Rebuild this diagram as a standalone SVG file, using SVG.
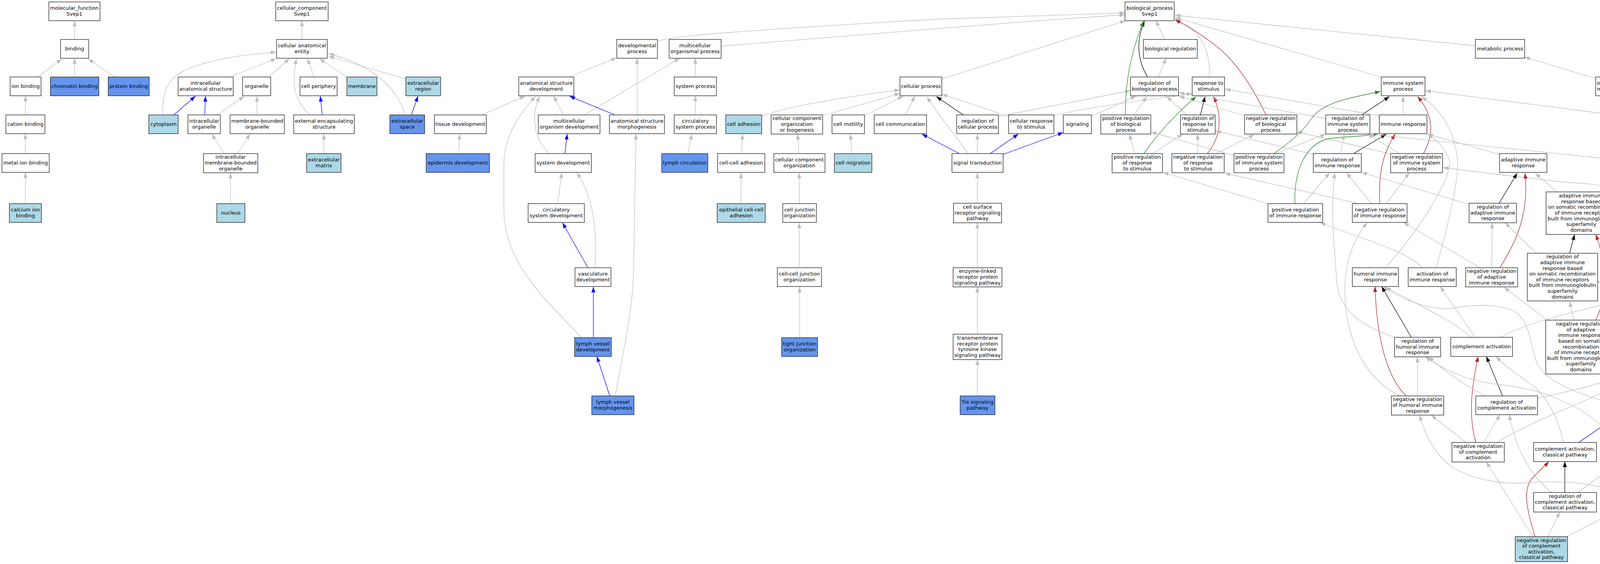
<svg xmlns="http://www.w3.org/2000/svg" width="4803" height="1443" viewBox="0 0 4803 1443">
<style>
.nd rect{fill:#fff;stroke:#1a1a1a;stroke-width:1.3}
.nd.lb rect{fill:#ADD8E6}
.nd.cb rect{fill:#6495ED}
.nd text{font-family:"DejaVu Sans","Liberation Sans",sans-serif;font-size:13px;fill:#000;text-anchor:middle}
#edges path{fill:none;stroke-width:1.3}
#edges .g{stroke:#BEBEBE;marker-end:url(#ag)}
#edges .b{stroke:#0000FF;marker-end:url(#ab)}
#edges .k{stroke:#000000;marker-end:url(#ak)}
#edges .v{stroke:#228B22;marker-end:url(#av)}
#edges .r{stroke:#B22222;marker-end:url(#ar)}
</style>
<defs>
<marker id="ag" viewBox="0 0 14 10" refX="14" refY="5" markerWidth="14" markerHeight="10" markerUnits="userSpaceOnUse" orient="auto"><path d="M0,0L14,5L0,10z" fill="#BEBEBE"/></marker>
<marker id="ab" viewBox="0 0 14 10" refX="14" refY="5" markerWidth="14" markerHeight="10" markerUnits="userSpaceOnUse" orient="auto"><path d="M0,0L14,5L0,10z" fill="#0000FF"/></marker>
<marker id="ak" viewBox="0 0 14 10" refX="14" refY="5" markerWidth="14" markerHeight="10" markerUnits="userSpaceOnUse" orient="auto"><path d="M0,0L14,5L0,10z" fill="#000000"/></marker>
<marker id="av" viewBox="0 0 14 10" refX="14" refY="5" markerWidth="14" markerHeight="10" markerUnits="userSpaceOnUse" orient="auto"><path d="M0,0L14,5L0,10z" fill="#228B22"/></marker>
<marker id="ar" viewBox="0 0 14 10" refX="14" refY="5" markerWidth="14" markerHeight="10" markerUnits="userSpaceOnUse" orient="auto"><path d="M0,0L14,5L0,10z" fill="#B22222"/></marker>
</defs>
<rect x="0" y="0" width="4803" height="1443" fill="#fff"/>
<g id="edges">
<path class="g" d="M191,101L191,53"/>
<path class="g" d="M97,197L158,151"/>
<path class="g" d="M191,197L191,149"/>
<path class="g" d="M294,197L226,151"/>
<path class="g" d="M65,294L65,245"/>
<path class="g" d="M65,393L65,342"/>
<path class="g" d="M65,521L65,441"/>
<path class="g" d="M773,101L773,53"/>
<path class="g" d="M417,294C414,215 440,185 520,163S650,139 707,133"/>
<path class="b" d="M445,294L500,246"/>
<path class="b" d="M524,294L526,246"/>
<path class="g" d="M589,197L707,150"/>
<path class="g" d="M688,197L741,150"/>
<path class="g" d="M556,294L625,246"/>
<path class="g" d="M658,294L658,246"/>
<path class="g" d="M794,294C755,262 745,215 759,150"/>
<path class="g" d="M804,197L787,150"/>
<path class="b" d="M825,294L820,246"/>
<path class="g" d="M888,197L818,150"/>
<path class="g" d="M1039,202L841,144"/>
<path class="g" d="M1036,294C1025,250 985,175 841,137"/>
<path class="b" d="M1053,294L1070,246"/>
<path class="g" d="M574,393L542,343"/>
<path class="g" d="M608,393L640,343"/>
<path class="g" d="M590,521L590,442"/>
<path class="g" d="M829,393L829,343"/>
<path class="g" d="M1456,197L1578,148"/>
<path class="g" d="M1233,294L1344,246"/>
<path class="g" d="M1174,393L1177,343"/>
<path class="g" d="M1443,294L1417,246"/>
<path class="g" d="M1496,294L1740,149"/>
<path class="b" d="M1574,294L1458,246"/>
<path class="g" d="M1631,294L1631,149"/>
<path class="b" d="M1446,393L1452,343"/>
<path class="g" d="M1407,393C1370,360 1355,300 1382,247"/>
<path class="g" d="M1428,521L1438,442"/>
<path class="b" d="M1505,685L1440,570"/>
<path class="g" d="M1523,685C1530,600 1520,500 1476,442"/>
<path class="b" d="M1519,864L1519,734"/>
<path class="g" d="M1488,864C1440,805 1290,690 1290,540L1290,420C1290,350 1330,290 1371,247"/>
<path class="g" d="M1575,1013C1600,880 1620,780 1622,700L1628,343"/>
<path class="b" d="M1561,1013L1528,912"/>
<path class="g" d="M1780,197L1780,149"/>
<path class="g" d="M1780,294L1780,245"/>
<path class="g" d="M1761,393L1771,343"/>
<path class="g" d="M1683,105C1720,92 1900,78 2400,49L2880,33"/>
<path class="g" d="M1846,118C2200,90 2600,55 2880,38"/>
<path class="g" d="M2411,202L2881,53"/>
<path class="g" d="M1950,298C2000,275 2150,250 2304,230"/>
<path class="g" d="M2106,296L2304,239"/>
<path class="g" d="M2213,296L2312,246"/>
<path class="g" d="M2318,294L2342,246"/>
<path class="g" d="M1898,393L1901,343"/>
<path class="g" d="M2045,393L2042,343"/>
<path class="g" d="M2181,393L2177,343"/>
<path class="g" d="M1897,521L1897,442"/>
<path class="g" d="M2046,521L2046,442"/>
<path class="g" d="M2046,685L2046,570"/>
<path class="g" d="M2047,864L2047,734"/>
<path class="k" d="M2466,294L2397,247"/>
<path class="g" d="M2556,298L2894,232"/>
<path class="g" d="M2582,298L2411,241"/>
<path class="g" d="M2698,296C2800,270 2950,255 3052,239"/>
<path class="g" d="M2794,298L2908,246"/>
<path class="g" d="M2502,393L2502,343"/>
<path class="b" d="M2535,393L2607,343"/>
<path class="b" d="M2568,395L2722,339"/>
<path class="b" d="M2456,393L2360,343"/>
<path class="g" d="M2479,393C2440,340 2400,290 2373,248"/>
<path class="g" d="M2502,520L2502,442"/>
<path class="g" d="M2502,685L2502,570"/>
<path class="g" d="M2502,855L2502,734"/>
<path class="g" d="M2502,1013L2502,920"/>
<path class="g" d="M2982,101L2959,53"/>
<path class="g" d="M2966,197L2985,149"/>
<path class="k" d="M2938,197C2915,160 2905,110 2930,54"/>
<path class="v" d="M2881,294C2880,200 2900,120 2928,54"/>
<path class="g" d="M3096,197C3098,130 3080,80 3008,48"/>
<path class="r" d="M3241,294C3215,240 3170,160 3110,115C3070,85 3040,65 3008,51"/>
<path class="g" d="M3777,117L3008,39"/>
<path class="g" d="M3536,197L3008,45"/>
<path class="g" d="M2903,294L2936,247"/>
<path class="g" d="M3038,294L2987,247"/>
<path class="k" d="M3073,294L3085,247"/>
<path class="g" d="M2905,393L2891,343"/>
<path class="v" d="M2928,393C2980,320 3030,275 3062,247"/>
<path class="g" d="M2951,393L3028,343"/>
<path class="g" d="M3066,393L3066,343"/>
<path class="r" d="M3091,393C3125,350 3130,300 3107,247"/>
<path class="g" d="M3113,393L3211,344"/>
<path class="g" d="M3159,398L2947,338"/>
<path class="g" d="M3531,296L3136,228"/>
<path class="g" d="M3394,303L3018,237"/>
<path class="g" d="M3188,296L3018,246"/>
<path class="g" d="M3362,395L3112,335"/>
<path class="g" d="M3478,521L3135,443"/>
<path class="g" d="M3246,521L2977,441"/>
<path class="g" d="M3557,393L3320,337"/>
<path class="v" d="M3261,393C3310,360 3340,330 3360,300C3390,260 3460,250 3534,234"/>
<path class="k" d="M3486,294L3557,247"/>
<path class="g" d="M3592,294L3592,246"/>
<path class="r" d="M3644,393C3668,350 3675,300 3629,247"/>
<path class="g" d="M3677,685C3700,600 3740,450 3730,400C3720,330 3690,280 3639,248"/>
<path class="g" d="M4249,309L3649,232"/>
<path class="v" d="M3315,521C3312,440 3340,370 3400,355C3450,348 3490,350 3529,342"/>
<path class="k" d="M3465,393L3549,343"/>
<path class="r" d="M3532,521C3530,450 3535,400 3572,343"/>
<path class="g" d="M3432,393L3441,343"/>
<path class="g" d="M3266,393L3394,343"/>
<path class="g" d="M3583,393L3501,343"/>
<path class="g" d="M3547,685C3640,580 3720,450 3710,410C3700,380 3680,360 3655,343"/>
<path class="g" d="M3838,395L3654,343"/>
<path class="g" d="M4154,410L3503,343"/>
<path class="g" d="M3337,521L3404,442"/>
<path class="g" d="M3511,521L3447,442"/>
<path class="g" d="M3549,521L3608,442"/>
<path class="g" d="M3570,863C3470,830 3425,780 3422,720C3418,640 3404,560 3417,442"/>
<path class="g" d="M3583,1013C3520,980 3470,920 3450,820C3435,740 3440,640 3500,570"/>
<path class="g" d="M3789,685L3593,569"/>
<path class="g" d="M3641,685C3600,640 3480,610 3379,569"/>
<path class="g" d="M4230,521C4150,480 4100,470 4000,466L3694,429"/>
<path class="k" d="M3837,521L3884,443"/>
<path class="r" d="M3840,685C3880,620 3915,550 3904,443"/>
<path class="g" d="M3986,491L3930,443"/>
<path class="g" d="M3819,685L3820,570"/>
<path class="g" d="M3933,648L3853,570"/>
<path class="g" d="M3761,523L3486,441"/>
<path class="g" d="M3957,816L3851,735"/>
<path class="k" d="M4018,648L4031,600"/>
<path class="r" d="M4085,819C4115,760 4115,680 4085,600"/>
<path class="g" d="M4029,819L4018,771"/>
<path class="g" d="M4335,685L4138,590"/>
<path class="g" d="M4451,861C4420,820 4300,762 4090,721"/>
<path class="g" d="M4469,1017L4137,920"/>
<path class="g" d="M4085,201L3903,146"/>
<path class="g" d="M4496,303L4210,238"/>
<path class="g" d="M4620,393L4581,342"/>
<path class="k" d="M4236,393L4284,343"/>
<path class="r" d="M4283,520L4302,343"/>
<path class="g" d="M4266,520L4228,443"/>
<path class="g" d="M4438,520L4269,443"/>
<path class="g" d="M3842,863C3900,830 4000,805 4100,780C4250,730 4370,650 4376,480C4380,420 4350,370 4325,344"/>
<path class="g" d="M4446,393L4353,343"/>
<path class="k" d="M4489,520L4489,442"/>
<path class="r" d="M4543,685C4580,600 4580,505 4530,442"/>
<path class="g" d="M4666,521L4535,442"/>
<path class="g" d="M4499,685L4325,570"/>
<path class="g" d="M4522,685L4496,570"/>
<path class="k" d="M4699,685L4706,570"/>
<path class="r" d="M4717,863C4760,820 4795,770 4797,700C4798,640 4770,600 4735,570"/>
<path class="g" d="M4666,685L4522,570"/>
<path class="g" d="M4407,685C4430,660 4460,643 4500,625L4645,569"/>
<path class="g" d="M4338,863L4376,734"/>
<path class="k" d="M4459,863L4402,734"/>
<path class="r" d="M4543,1013C4565,920 4560,820 4510,790C4470,775 4440,760 4410,734"/>
<path class="g" d="M4504,863L4663,734"/>
<path class="g" d="M4691,863L4695,734"/>
<path class="g" d="M4666,863L4556,734"/>
<path class="g" d="M4525,1013L4484,914"/>
<path class="g" d="M4561,1013L4663,914"/>
<path class="g" d="M4210,1006L4306,914"/>
<path class="k" d="M4330,1006L4330,914"/>
<path class="r" d="M4412,1125C4415,1040 4400,980 4353,914"/>
<path class="g" d="M4361,1006L4448,914"/>
<path class="g" d="M4387,1125L4353,1070"/>
<path class="g" d="M4441,1125L4510,1062"/>
<path class="b" d="M4040,1133L4132,1070"/>
<path class="k" d="M4178,1118L4178,1070"/>
<path class="r" d="M4223,1246C4265,1190 4270,1130 4224,1070"/>
<path class="g" d="M4227,1118L4289,1070"/>
<path class="g" d="M4246,1246L4351,1189"/>
<path class="g" d="M4178,1246L4178,1197"/>
<path class="g" d="M4038,1261L4125,1197"/>
<path class="g" d="M4010,1373L4112,1321"/>
<path class="g" d="M4112,1028C4050,1010 3960,980 3935,930C3915,880 3920,820 3873,795C3830,775 3760,780 3710,790C3640,790 3580,760 3542,733"/>
<path class="g" d="M3766,863C3720,820 3630,780 3547,735"/>
<path class="g" d="M3776,863L3687,733"/>
<path class="k" d="M3613,863L3537,733"/>
<path class="r" d="M3600,1013C3555,970 3525,880 3520,733"/>
<path class="g" d="M3629,1013L3629,913"/>
<path class="k" d="M3847,1014L3805,912"/>
<path class="r" d="M3778,1132C3760,1070 3765,1000 3784,912"/>
<path class="g" d="M3798,1132L3840,1061"/>
<path class="g" d="M3753,1132L3664,1062"/>
<path class="g" d="M3832,1132C3900,1090 4000,1050 4068,1020C4140,990 4190,960 4220,890C4245,820 4256,750 4256,570"/>
<path class="g" d="M3936,1019C4020,1000 4120,980 4150,955C4190,920 4195,850 4195,700L4206,442"/>
<path class="g" d="M3802,1013C3740,980 3700,950 3657,913"/>
<path class="g" d="M4132,1117C4080,1070 4040,1040 4000,1027C3950,1000 3880,988 3838,984C3760,975 3700,950 3649,913"/>
<path class="k" d="M4006,1260L4006,1181"/>
<path class="g" d="M3973,1260C3920,1220 3880,1150 3864,1061"/>
<path class="g" d="M3924,1373L3805,1182"/>
<path class="r" d="M3930,1373C3910,1310 3895,1250 3925,1221C3940,1205 3955,1192 3965,1181"/>
<path class="g" d="M3963,1373L3993,1310"/>
<path class="g" d="M4002,1132C3990,1070 3955,1005 3915,980C3880,955 3850,935 3830,912"/>
<path class="g" d="M4112,1250C4050,1232 3970,1230 3914,1235C3850,1240 3780,1230 3720,1197C3680,1170 3650,1120 3634,1062"/>
</g>
<g id="mf" class="nd"><rect x="125" y="5" width="131" height="48"/><text><tspan x="190.5" y="25">molecular_function</tspan><tspan x="190.5" y="40">Svep1</tspan></text></g>
<g id="binding" class="nd"><rect x="155" y="101" width="72" height="48"/><text><tspan x="191" y="128.5">binding</tspan></text></g>
<g id="ion_binding" class="nd"><rect x="26" y="197" width="79" height="48"/><text><tspan x="65.5" y="224.5">ion binding</tspan></text></g>
<g id="chromatin_binding" class="nd cb"><rect x="129" y="197" width="124" height="48"/><text><tspan x="191" y="224.5">chromatin binding</tspan></text></g>
<g id="protein_binding" class="nd cb"><rect x="277" y="197" width="105" height="48"/><text><tspan x="329.5" y="224.5">protein binding</tspan></text></g>
<g id="cation_binding" class="nd"><rect x="15" y="294" width="100" height="48"/><text><tspan x="65" y="321.5">cation binding</tspan></text></g>
<g id="metal_ion_binding" class="nd"><rect x="5" y="393" width="121" height="48"/><text><tspan x="65.5" y="420.5">metal ion binding</tspan></text></g>
<g id="calcium_ion_binding" class="nd lb"><rect x="24" y="521" width="82" height="48"/><text><tspan x="65" y="541">calcium ion</tspan><tspan x="65" y="556">binding</tspan></text></g>
<g id="cc" class="nd"><rect x="706" y="5" width="134" height="48"/><text><tspan x="773" y="25">cellular_component</tspan><tspan x="773" y="40">Svep1</tspan></text></g>
<g id="cae" class="nd"><rect x="708" y="101" width="130" height="48"/><text><tspan x="773" y="121">cellular anatomical</tspan><tspan x="773" y="136">entity</tspan></text></g>
<g id="ias" class="nd"><rect x="456" y="197" width="141" height="48"/><text><tspan x="526.5" y="217">intracellular</tspan><tspan x="526.5" y="232">anatomical structure</tspan></text></g>
<g id="organelle" class="nd"><rect x="621" y="197" width="72" height="48"/><text><tspan x="657" y="224.5">organelle</tspan></text></g>
<g id="cell_periphery" class="nd"><rect x="768" y="197" width="95" height="48"/><text><tspan x="815.5" y="224.5">cell periphery</tspan></text></g>
<g id="membrane" class="nd lb"><rect x="888" y="197" width="77" height="48"/><text><tspan x="926.5" y="224.5">membrane</tspan></text></g>
<g id="extracellular_region" class="nd lb"><rect x="1039" y="197" width="89" height="48"/><text><tspan x="1083.5" y="217">extracellular</tspan><tspan x="1083.5" y="232">region</tspan></text></g>
<g id="cytoplasm" class="nd lb"><rect x="381" y="294" width="75" height="48"/><text><tspan x="418.5" y="321.5">cytoplasm</tspan></text></g>
<g id="intracellular_organelle" class="nd"><rect x="481" y="294" width="83" height="48"/><text><tspan x="522.5" y="314">intracellular</tspan><tspan x="522.5" y="329">organelle</tspan></text></g>
<g id="mbo" class="nd"><rect x="589" y="294" width="139" height="48"/><text><tspan x="658.5" y="314">membrane-bounded</tspan><tspan x="658.5" y="329">organelle</tspan></text></g>
<g id="ees" class="nd"><rect x="752" y="294" width="155" height="48"/><text><tspan x="829.5" y="314">external encapsulating</tspan><tspan x="829.5" y="329">structure</tspan></text></g>
<g id="extracellular_space" class="nd cb"><rect x="998" y="294" width="89" height="48"/><text><tspan x="1042.5" y="314">extracellular</tspan><tspan x="1042.5" y="329">space</tspan></text></g>
<g id="imbo" class="nd"><rect x="521" y="393" width="139" height="49"/><text><tspan x="590.5" y="406.4">intracellular</tspan><tspan x="590.5" y="421">membrane-bounded</tspan><tspan x="590.5" y="435.6">organelle</tspan></text></g>
<g id="nucleus" class="nd lb"><rect x="555" y="521" width="72" height="48"/><text><tspan x="591" y="548.5">nucleus</tspan></text></g>
<g id="extracellular_matrix" class="nd lb"><rect x="785" y="393" width="88" height="48"/><text><tspan x="829" y="413">extracellular</tspan><tspan x="829" y="428">matrix</tspan></text></g>
<g id="tissue_development" class="nd"><rect x="1112" y="294" width="133" height="48"/><text><tspan x="1178.5" y="321.5">tissue development</tspan></text></g>
<g id="epidermis_development" class="nd cb"><rect x="1091" y="393" width="162" height="48"/><text><tspan x="1172" y="420.5">epidermis development</tspan></text></g>
<g id="asd" class="nd"><rect x="1328" y="197" width="141" height="48"/><text><tspan x="1398.5" y="217">anatomical structure</tspan><tspan x="1398.5" y="232">development</tspan></text></g>
<g id="mod" class="nd"><rect x="1378" y="294" width="158" height="48"/><text><tspan x="1457" y="314">multicellular</tspan><tspan x="1457" y="329">organism development</tspan></text></g>
<g id="asm" class="nd"><rect x="1560" y="294" width="141" height="48"/><text><tspan x="1630.5" y="314">anatomical structure</tspan><tspan x="1630.5" y="329">morphogenesis</tspan></text></g>
<g id="system_development" class="nd"><rect x="1370" y="393" width="144" height="48"/><text><tspan x="1442" y="420.5">system development</tspan></text></g>
<g id="circ_dev" class="nd"><rect x="1352" y="521" width="144" height="48"/><text><tspan x="1424" y="541">circulatory</tspan><tspan x="1424" y="556">system development</tspan></text></g>
<g id="vasculature_development" class="nd"><rect x="1472" y="685" width="92" height="48"/><text><tspan x="1518" y="705">vasculature</tspan><tspan x="1518" y="720">development</tspan></text></g>
<g id="lymph_vessel_development" class="nd cb"><rect x="1471" y="864" width="94" height="48"/><text><tspan x="1518" y="884">lymph vessel</tspan><tspan x="1518" y="899">development</tspan></text></g>
<g id="lymph_vessel_morphogenesis" class="nd cb"><rect x="1515" y="1013" width="108" height="48"/><text><tspan x="1569" y="1033">lymph vessel</tspan><tspan x="1569" y="1048">morphogenesis</tspan></text></g>
<g id="developmental_process" class="nd"><rect x="1579" y="101" width="104" height="48"/><text><tspan x="1631" y="121">developmental</tspan><tspan x="1631" y="136">process</tspan></text></g>
<g id="mop" class="nd"><rect x="1713" y="101" width="133" height="48"/><text><tspan x="1779.5" y="121">multicellular</tspan><tspan x="1779.5" y="136">organismal process</tspan></text></g>
<g id="system_process" class="nd"><rect x="1726" y="197" width="108" height="48"/><text><tspan x="1780" y="224.5">system process</tspan></text></g>
<g id="circ_proc" class="nd"><rect x="1726" y="294" width="108" height="48"/><text><tspan x="1780" y="314">circulatory</tspan><tspan x="1780" y="329">system process</tspan></text></g>
<g id="lymph_circulation" class="nd cb"><rect x="1694" y="393" width="118" height="48"/><text><tspan x="1753" y="420.5">lymph circulation</tspan></text></g>
<g id="cell_adhesion" class="nd lb"><rect x="1858" y="294" width="92" height="48"/><text><tspan x="1904" y="321.5">cell adhesion</tspan></text></g>
<g id="ccob" class="nd"><rect x="1974" y="294" width="132" height="49"/><text><tspan x="2040" y="307.4">cellular component</tspan><tspan x="2040" y="322">organization</tspan><tspan x="2040" y="336.6">or biogenesis</tspan></text></g>
<g id="cell_motility" class="nd"><rect x="2130" y="294" width="83" height="48"/><text><tspan x="2171.5" y="321.5">cell motility</tspan></text></g>
<g id="cell_communication" class="nd"><rect x="2238" y="294" width="134" height="48"/><text><tspan x="2305" y="321.5">cell communication</tspan></text></g>
<g id="cellular_process" class="nd"><rect x="2304" y="197" width="107" height="48"/><text><tspan x="2357.5" y="224.5">cellular process</tspan></text></g>
<g id="cell_cell_adhesion" class="nd"><rect x="1837" y="393" width="121" height="48"/><text><tspan x="1897.5" y="420.5">cell-cell adhesion</tspan></text></g>
<g id="cco" class="nd"><rect x="1981" y="393" width="131" height="48"/><text><tspan x="2046.5" y="413">cellular component</tspan><tspan x="2046.5" y="428">organization</tspan></text></g>
<g id="cell_migration" class="nd lb"><rect x="2136" y="393" width="96" height="48"/><text><tspan x="2184" y="420.5">cell migration</tspan></text></g>
<g id="epithelial_adhesion" class="nd lb"><rect x="1836" y="521" width="123" height="48"/><text><tspan x="1897.5" y="541">epithelial cell-cell</tspan><tspan x="1897.5" y="556">adhesion</tspan></text></g>
<g id="cjo" class="nd"><rect x="2004" y="521" width="86" height="48"/><text><tspan x="2047" y="541">cell junction</tspan><tspan x="2047" y="556">organization</tspan></text></g>
<g id="ccjo" class="nd"><rect x="1990" y="685" width="113" height="48"/><text><tspan x="2046.5" y="705">cell-cell junction</tspan><tspan x="2046.5" y="720">organization</tspan></text></g>
<g id="tjo" class="nd cb"><rect x="2001" y="864" width="92" height="48"/><text><tspan x="2047" y="884">tight junction</tspan><tspan x="2047" y="899">organization</tspan></text></g>
<g id="bp" class="nd"><rect x="2880" y="5" width="126" height="48"/><text><tspan x="2943" y="25">biological_process</tspan><tspan x="2943" y="40">Svep1</tspan></text></g>
<g id="biological_regulation" class="nd"><rect x="2927" y="101" width="138" height="48"/><text><tspan x="2996" y="128.5">biological regulation</tspan></text></g>
<g id="rbp" class="nd"><rect x="2894" y="197" width="123" height="48"/><text><tspan x="2955.5" y="217">regulation of</tspan><tspan x="2955.5" y="232">biological process</tspan></text></g>
<g id="rts" class="nd"><rect x="3052" y="197" width="83" height="48"/><text><tspan x="3093.5" y="217">response to</tspan><tspan x="3093.5" y="232">stimulus</tspan></text></g>
<g id="rcp" class="nd"><rect x="2449" y="294" width="107" height="48"/><text><tspan x="2502.5" y="314">regulation of</tspan><tspan x="2502.5" y="329">cellular process</tspan></text></g>
<g id="crs" class="nd"><rect x="2582" y="294" width="116" height="48"/><text><tspan x="2640" y="314">cellular response</tspan><tspan x="2640" y="329">to stimulus</tspan></text></g>
<g id="signaling" class="nd"><rect x="2722" y="294" width="72" height="48"/><text><tspan x="2758" y="321.5">signaling</tspan></text></g>
<g id="prbp" class="nd"><rect x="2818" y="294" width="128" height="49"/><text><tspan x="2882" y="307.4">positive regulation</tspan><tspan x="2882" y="322">of biological</tspan><tspan x="2882" y="336.6">process</tspan></text></g>
<g id="rrs" class="nd"><rect x="3022" y="294" width="89" height="49"/><text><tspan x="3066.5" y="307.4">regulation of</tspan><tspan x="3066.5" y="322">response to</tspan><tspan x="3066.5" y="336.6">stimulus</tspan></text></g>
<g id="nrbp" class="nd"><rect x="3186" y="294" width="134" height="49"/><text><tspan x="3253" y="307.4">negative regulation</tspan><tspan x="3253" y="322">of biological</tspan><tspan x="3253" y="336.6">process</tspan></text></g>
<g id="signal_transduction" class="nd"><rect x="2437" y="393" width="131" height="48"/><text><tspan x="2502.5" y="420.5">signal transduction</tspan></text></g>
<g id="prrs" class="nd"><rect x="2847" y="393" width="129" height="49"/><text><tspan x="2911.5" y="406.4">positive regulation</tspan><tspan x="2911.5" y="421">of response</tspan><tspan x="2911.5" y="435.6">to stimulus</tspan></text></g>
<g id="nrrs" class="nd"><rect x="3000" y="393" width="134" height="49"/><text><tspan x="3067" y="406.4">negative regulation</tspan><tspan x="3067" y="421">of response</tspan><tspan x="3067" y="435.6">to stimulus</tspan></text></g>
<g id="pris" class="nd"><rect x="3159" y="393" width="128" height="49"/><text><tspan x="3223" y="406.4">positive regulation</tspan><tspan x="3223" y="421">of immune system</tspan><tspan x="3223" y="435.6">process</tspan></text></g>
<g id="csrsp" class="nd"><rect x="2441" y="520" width="123" height="50"/><text><tspan x="2502.5" y="533.9">cell surface</tspan><tspan x="2502.5" y="548.5">receptor signaling</tspan><tspan x="2502.5" y="563.1">pathway</tspan></text></g>
<g id="elrp" class="nd"><rect x="2440" y="685" width="125" height="49"/><text><tspan x="2502.5" y="698.4">enzyme-linked</tspan><tspan x="2502.5" y="713">receptor protein</tspan><tspan x="2502.5" y="727.6">signaling pathway</tspan></text></g>
<g id="trptk" class="nd"><rect x="2440" y="855" width="125" height="65"/><text><tspan x="2502.5" y="869.1">transmembrane</tspan><tspan x="2502.5" y="883.7">receptor protein</tspan><tspan x="2502.5" y="898.3">tyrosine kinase</tspan><tspan x="2502.5" y="912.9">signaling pathway</tspan></text></g>
<g id="tie" class="nd cb"><rect x="2458" y="1013" width="89" height="48"/><text><tspan x="2502.5" y="1033">Tie signaling</tspan><tspan x="2502.5" y="1048">pathway</tspan></text></g>
<g id="metabolic_process" class="nd"><rect x="3777" y="101" width="126" height="48"/><text><tspan x="3840" y="128.5">metabolic process</tspan></text></g>
<g id="isp" class="nd"><rect x="3536" y="197" width="112" height="48"/><text><tspan x="3592" y="217">immune system</tspan><tspan x="3592" y="232">process</tspan></text></g>
<g id="ris" class="nd"><rect x="3394" y="294" width="113" height="49"/><text><tspan x="3450.5" y="307.4">regulation of</tspan><tspan x="3450.5" y="322">immune system</tspan><tspan x="3450.5" y="336.6">process</tspan></text></g>
<g id="immune_response" class="nd"><rect x="3531" y="294" width="122" height="48"/><text><tspan x="3592" y="321.5">immune response</tspan></text></g>
<g id="rir" class="nd"><rect x="3362" y="393" width="123" height="48"/><text><tspan x="3423.5" y="413">regulation of</tspan><tspan x="3423.5" y="428">immune response</tspan></text></g>
<g id="nris" class="nd"><rect x="3560" y="393" width="133" height="49"/><text><tspan x="3626.5" y="406.4">negative regulation</tspan><tspan x="3626.5" y="421">of immune system</tspan><tspan x="3626.5" y="435.6">process</tspan></text></g>
<g id="air" class="nd"><rect x="3839" y="393" width="121" height="48"/><text><tspan x="3899.5" y="413">adaptive immune</tspan><tspan x="3899.5" y="428">response</tspan></text></g>
<g id="prir" class="nd"><rect x="3246" y="521" width="140" height="48"/><text><tspan x="3316" y="541">positive regulation</tspan><tspan x="3316" y="556">of immune response</tspan></text></g>
<g id="nrir" class="nd"><rect x="3462" y="521" width="140" height="48"/><text><tspan x="3532" y="541">negative regulation</tspan><tspan x="3532" y="556">of immune response</tspan></text></g>
<g id="rair" class="nd"><rect x="3761" y="520" width="121" height="50"/><text><tspan x="3821.5" y="533.9">regulation of</tspan><tspan x="3821.5" y="548.5">adaptive immune</tspan><tspan x="3821.5" y="563.1">response</tspan></text></g>
<g id="airsr" class="nd"><rect x="3958" y="491" width="180" height="109"/><text><tspan x="4048" y="505.2">adaptive immune</tspan><tspan x="4048" y="519.8">response based</tspan><tspan x="4048" y="534.4">on somatic recombination</tspan><tspan x="4048" y="549">of immune receptors</tspan><tspan x="4048" y="563.6">built from immunoglobulin</tspan><tspan x="4048" y="578.2">superfamily</tspan><tspan x="4048" y="592.8">domains</tspan></text></g>
<g id="hir" class="nd"><rect x="3462" y="685" width="118" height="48"/><text><tspan x="3521" y="705">humoral immune</tspan><tspan x="3521" y="720">response</tspan></text></g>
<g id="aoir" class="nd"><rect x="3605" y="685" width="123" height="48"/><text><tspan x="3666.5" y="705">activation of</tspan><tspan x="3666.5" y="720">immune response</tspan></text></g>
<g id="nrair" class="nd"><rect x="3752" y="685" width="133" height="49"/><text><tspan x="3818.5" y="698.4">negative regulation</tspan><tspan x="3818.5" y="713">of adaptive</tspan><tspan x="3818.5" y="727.6">immune response</tspan></text></g>
<g id="rairsr" class="nd"><rect x="3910" y="648" width="180" height="122"/><text><tspan x="4000" y="661.4">regulation of</tspan><tspan x="4000" y="676">adaptive immune</tspan><tspan x="4000" y="690.6">response based</tspan><tspan x="4000" y="705.2">on somatic recombination</tspan><tspan x="4000" y="719.8">of immune receptors</tspan><tspan x="4000" y="734.4">built from immunoglobulin</tspan><tspan x="4000" y="749">superfamily</tspan><tspan x="4000" y="763.6">domains</tspan></text></g>
<g id="nrairsr" class="nd"><rect x="3957" y="819" width="180" height="138"/><text><tspan x="4047" y="833.1">negative regulation</tspan><tspan x="4047" y="847.7">of adaptive</tspan><tspan x="4047" y="862.3">immune response</tspan><tspan x="4047" y="876.9">based on somatic</tspan><tspan x="4047" y="891.5">recombination</tspan><tspan x="4047" y="906.1">of immune receptors</tspan><tspan x="4047" y="920.7">built from immunoglobulin</tspan><tspan x="4047" y="935.3">superfamily</tspan><tspan x="4047" y="949.9">domains</tspan></text></g>
<g id="rhir" class="nd"><rect x="3570" y="863" width="118" height="50"/><text><tspan x="3629" y="876.9">regulation of</tspan><tspan x="3629" y="891.5">humoral immune</tspan><tspan x="3629" y="906.1">response</tspan></text></g>
<g id="complement_activation" class="nd"><rect x="3714" y="863" width="158" height="49"/><text><tspan x="3793" y="891">complement activation</tspan></text></g>
<g id="nrhir" class="nd"><rect x="3562" y="1013" width="134" height="49"/><text><tspan x="3629" y="1026.4">negative regulation</tspan><tspan x="3629" y="1041">of humoral immune</tspan><tspan x="3629" y="1055.6">response</tspan></text></g>
<g id="rca" class="nd"><rect x="3778" y="1013" width="158" height="48"/><text><tspan x="3857" y="1033">regulation of</tspan><tspan x="3857" y="1048">complement activation</tspan></text></g>
<g id="nrca" class="nd"><rect x="3717" y="1132" width="134" height="50"/><text><tspan x="3784" y="1145.9">negative regulation</tspan><tspan x="3784" y="1160.5">of complement</tspan><tspan x="3784" y="1175.1">activation</tspan></text></g>
<g id="cacp" class="nd"><rect x="3926" y="1132" width="161" height="49"/><text><tspan x="4006.5" y="1152.5">complement activation,</tspan><tspan x="4006.5" y="1167.5">classical pathway</tspan></text></g>
<g id="rcacp" class="nd"><rect x="3926" y="1260" width="161" height="50"/><text><tspan x="4006.5" y="1273.9">regulation of</tspan><tspan x="4006.5" y="1288.5">complement activation,</tspan><tspan x="4006.5" y="1303.1">classical pathway</tspan></text></g>
<g id="nrcacp" class="nd lb"><rect x="3879" y="1373" width="134" height="64"/><text><tspan x="3946" y="1386.6">negative regulation</tspan><tspan x="3946" y="1401.2">of complement</tspan><tspan x="3946" y="1415.8">activation,</tspan><tspan x="3946" y="1430.4">classical pathway</tspan></text></g>
<g id="osmp" class="nd"><rect x="4085" y="197" width="125" height="48"/><text><tspan x="4147.5" y="217">organic substance</tspan><tspan x="4147.5" y="232">metabolic process</tspan></text></g>
<g id="iep" class="nd"><rect x="4249" y="294" width="115" height="48"/><text><tspan x="4306.5" y="314">immune effector</tspan><tspan x="4306.5" y="329">process</tspan></text></g>
<g id="mmp" class="nd"><rect x="4496" y="294" width="125" height="48"/><text><tspan x="4558.5" y="314">macromolecule</tspan><tspan x="4558.5" y="329">metabolic process</tspan></text></g>
<g id="riep" class="nd"><rect x="4155" y="393" width="114" height="49"/><text><tspan x="4212" y="406.4">regulation of</tspan><tspan x="4212" y="421">immune effector</tspan><tspan x="4212" y="435.6">process</tspan></text></g>
<g id="lmi" class="nd"><rect x="4421" y="393" width="136" height="48"/><text><tspan x="4489" y="413">leukocyte mediated</tspan><tspan x="4489" y="428">immunity</tspan></text></g>
<g id="gene_expression" class="nd cb"><rect x="4582" y="393" width="113" height="48"/><text><tspan x="4638.5" y="420.5">gene expression</tspan></text></g>
<g id="nriep" class="nd"><rect x="4213" y="520" width="134" height="50"/><text><tspan x="4280" y="533.9">negative regulation</tspan><tspan x="4280" y="548.5">of immune effector</tspan><tspan x="4280" y="563.1">process</tspan></text></g>
<g id="rlmi" class="nd"><rect x="4421" y="520" width="136" height="50"/><text><tspan x="4489" y="533.9">regulation of</tspan><tspan x="4489" y="548.5">leukocyte mediated</tspan><tspan x="4489" y="563.1">immunity</tspan></text></g>
<g id="lymi" class="nd"><rect x="4631" y="521" width="150" height="48"/><text><tspan x="4706" y="541">lymphocyte mediated</tspan><tspan x="4706" y="556">immunity</tspan></text></g>
<g id="bcmi" class="nd"><rect x="4331" y="685" width="108" height="48"/><text><tspan x="4385" y="705">B cell mediated</tspan><tspan x="4385" y="720">immunity</tspan></text></g>
<g id="nrlmi" class="nd"><rect x="4463" y="685" width="135" height="49"/><text><tspan x="4530.5" y="698.4">negative regulation</tspan><tspan x="4530.5" y="713">of leukocyte</tspan><tspan x="4530.5" y="727.6">mediated immunity</tspan></text></g>
<g id="rlymi" class="nd"><rect x="4623" y="685" width="149" height="49"/><text><tspan x="4697.5" y="698.4">regulation of</tspan><tspan x="4697.5" y="713">lymphocyte mediated</tspan><tspan x="4697.5" y="727.6">immunity</tspan></text></g>
<g id="igmir" class="nd"><rect x="4267" y="863" width="126" height="50"/><text><tspan x="4330" y="876.9">immunoglobulin</tspan><tspan x="4330" y="891.5">mediated immune</tspan><tspan x="4330" y="906.1">response</tspan></text></g>
<g id="rbcmi" class="nd"><rect x="4418" y="863" width="107" height="50"/><text><tspan x="4471.5" y="876.9">regulation of</tspan><tspan x="4471.5" y="891.5">B cell mediated</tspan><tspan x="4471.5" y="906.1">immunity</tspan></text></g>
<g id="nrlymi" class="nd"><rect x="4622" y="863" width="134" height="50"/><text><tspan x="4689" y="876.9">negative regulation</tspan><tspan x="4689" y="891.5">of lymphocyte</tspan><tspan x="4689" y="906.1">mediated immunity</tspan></text></g>
<g id="hirmci" class="nd"><rect x="4112" y="1005" width="131" height="64"/><text><tspan x="4177.5" y="1018.6">humoral immune</tspan><tspan x="4177.5" y="1033.2">response mediated</tspan><tspan x="4177.5" y="1047.8">by circulating</tspan><tspan x="4177.5" y="1062.4">immunoglobulin</tspan></text></g>
<g id="rigmir" class="nd"><rect x="4267" y="1005" width="126" height="64"/><text><tspan x="4330" y="1018.6">regulation of</tspan><tspan x="4330" y="1033.2">immunoglobulin</tspan><tspan x="4330" y="1047.8">mediated immune</tspan><tspan x="4330" y="1062.4">response</tspan></text></g>
<g id="nrbcmi" class="nd"><rect x="4469" y="1013" width="133" height="49"/><text><tspan x="4535.5" y="1026.4">negative regulation</tspan><tspan x="4535.5" y="1041">of B cell mediated</tspan><tspan x="4535.5" y="1055.6">immunity</tspan></text></g>
<g id="rhirmci" class="nd"><rect x="4112" y="1117" width="131" height="80"/><text><tspan x="4177.5" y="1131.3">regulation of</tspan><tspan x="4177.5" y="1145.9">humoral immune</tspan><tspan x="4177.5" y="1160.5">response mediated</tspan><tspan x="4177.5" y="1175.1">by circulating</tspan><tspan x="4177.5" y="1189.7">immunoglobulin</tspan></text></g>
<g id="nrigmir" class="nd"><rect x="4342" y="1125" width="133" height="64"/><text><tspan x="4408.5" y="1138.6">negative regulation</tspan><tspan x="4408.5" y="1153.2">of immunoglobulin</tspan><tspan x="4408.5" y="1167.8">mediated immune</tspan><tspan x="4408.5" y="1182.4">response</tspan></text></g>
<g id="nrhirmci" class="nd"><rect x="4112" y="1245" width="133" height="79"/><text><tspan x="4178.5" y="1258.8">negative regulation</tspan><tspan x="4178.5" y="1273.4">of humoral immune</tspan><tspan x="4178.5" y="1288">response mediated</tspan><tspan x="4178.5" y="1302.6">by circulating</tspan><tspan x="4178.5" y="1317.2">immunoglobulin</tspan></text></g>
</svg>
